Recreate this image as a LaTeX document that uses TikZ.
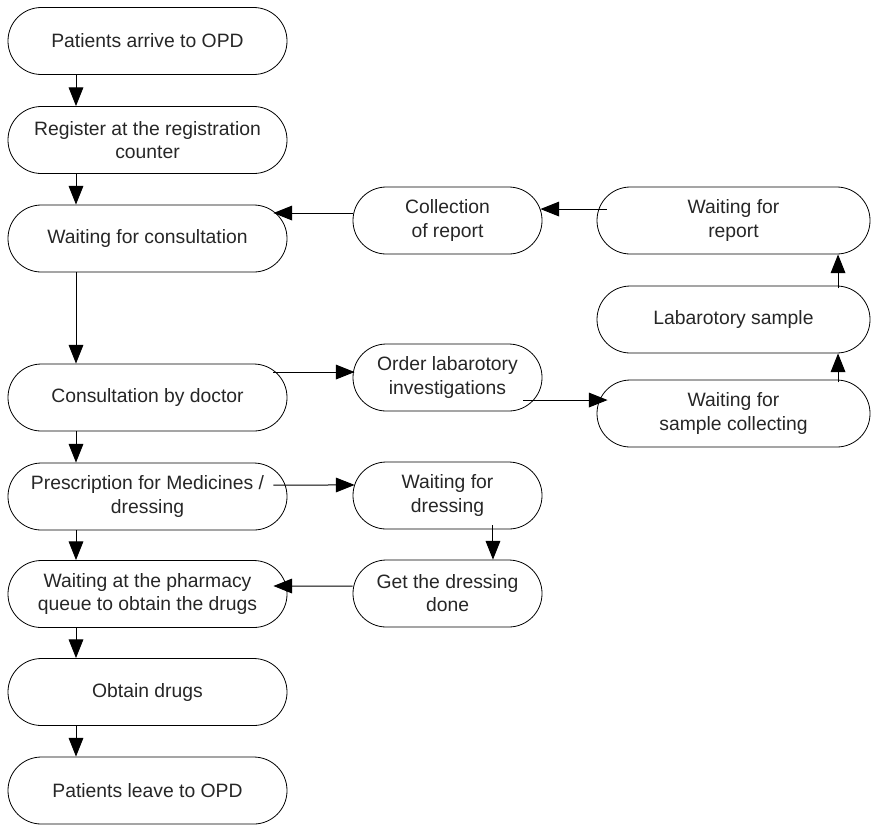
\documentclass[tikz,border=0pt]{standalone}
\usepackage{fontspec}
\setmainfont{Liberation Sans}
\usetikzlibrary{arrows.meta}
\tikzset{
  stepnode/.style={draw, line width=0.6pt, rectangle, rounded corners=25pt,
    minimum height=50.25pt, align=center, inner sep=2pt, text=black!85,
    font=\fontsize{14.5}{17.3}\selectfont},
  widenode/.style={stepnode, minimum width=209.25pt},
  midnode/.style={stepnode, minimum width=141.75pt},
  farnode/.style={stepnode, minimum width=204.75pt},
  arr/.style={-{Triangle[length=14pt,width=11pt]}, line width=0.75pt}
}
\begin{document}
\begin{tikzpicture}[x=0.75pt,y=-0.75pt]
	\useasboundingbox (0,0) rectangle (873,825);
	% left column
	\node[widenode] (arrive) at (147.5,41) {Patients arrive to OPD};
	\node[widenode] (register) at (147.5,140) {Register at the registration\\counter};
	\node[widenode] (waitcons) at (147.5,238.5) {Waiting for consultation};
	\node[widenode] (consult) at (147.5,397.5) {Consultation by doctor};
	\node[widenode] (prescr) at (147.5,496.5) {Prescription for Medicines /\\dressing};
	\node[widenode] (pharmacy) at (147.5,594) {Waiting at the pharmacy\\queue to obtain the drugs};
	\node[widenode] (obtain) at (147.5,692) {Obtain drugs};
	\node[widenode] (leave) at (147.5,790.5) {Patients leave to OPD};
	% middle column
	\node[midnode] (collect) at (447.5,220.5) {Collection\\of report};
	\node[midnode] (order) at (447.5,377.5) {Order labarotory\\investigations};
	\node[midnode] (waitdress) at (447.5,495.5) {Waiting for\\dressing};
	\node[midnode] (getdress) at (447.5,593.5) {Get the dressing\\done};
	% right column
	\node[farnode] (waitreport) at (733.5,220.5) {Waiting for\\report};
	\node[farnode] (labsample) at (733.5,319.5) {Labarotory sample};
	\node[farnode] (waitsample) at (733.5,413.5) {Waiting for\\sample collecting};

	\coordinate (lane) at (76,0);
	\draw[arr] (arrive.south -| lane) -- (register.north -| lane);
	\draw[arr] (register.south -| lane) -- (waitcons.north -| lane);
	\draw[arr] (waitcons.south -| lane) -- (consult.north -| lane);
	\draw[arr] (consult.south -| lane) -- (prescr.north -| lane);
	\draw[arr] (prescr.south -| lane) -- (pharmacy.north -| lane);
	\draw[arr] (pharmacy.south -| lane) -- (obtain.north -| lane);
	\draw[arr] (obtain.south -| lane) -- (leave.north -| lane);

	\draw[arr] ([xshift=-10.5pt,yshift=19.1pt]consult.east) -- ([xshift=1.5pt,yshift=4.1pt]order.west);
	\draw[arr] ([xshift=-14.25pt,yshift=-16.9pt]order.east) -- ([xshift=8.25pt,yshift=10.1pt]waitsample.west);
	\draw[arr] ([xshift=78.4pt,yshift=-2pt]waitsample.north) -- ([xshift=78.4pt]labsample.south);
	\draw[arr] ([xshift=78.4pt,yshift=-2pt]labsample.north) -- ([xshift=78.4pt]waitreport.south);
	\draw[arr] ([xshift=7.5pt,yshift=8.6pt]waitreport.west) -- ([xshift=-1.5pt,yshift=8.6pt]collect.east);
	\draw[arr] ([yshift=5.6pt]collect.west) -- ([xshift=-10.5pt,yshift=19.1pt]waitcons.east);

	\draw[arr] ([xshift=-10.5pt,yshift=8.6pt]prescr.east) -- ([xshift=1.5pt,yshift=7.9pt]waitdress.west);
	\draw[arr] ([xshift=34.1pt,yshift=3pt]waitdress.south) -- ([xshift=34.1pt]getdress.north);
	\draw[arr] ([yshift=5.6pt]getdress.west) -- ([xshift=-10.5pt,yshift=6pt]pharmacy.east);
\end{tikzpicture}
\end{document}
